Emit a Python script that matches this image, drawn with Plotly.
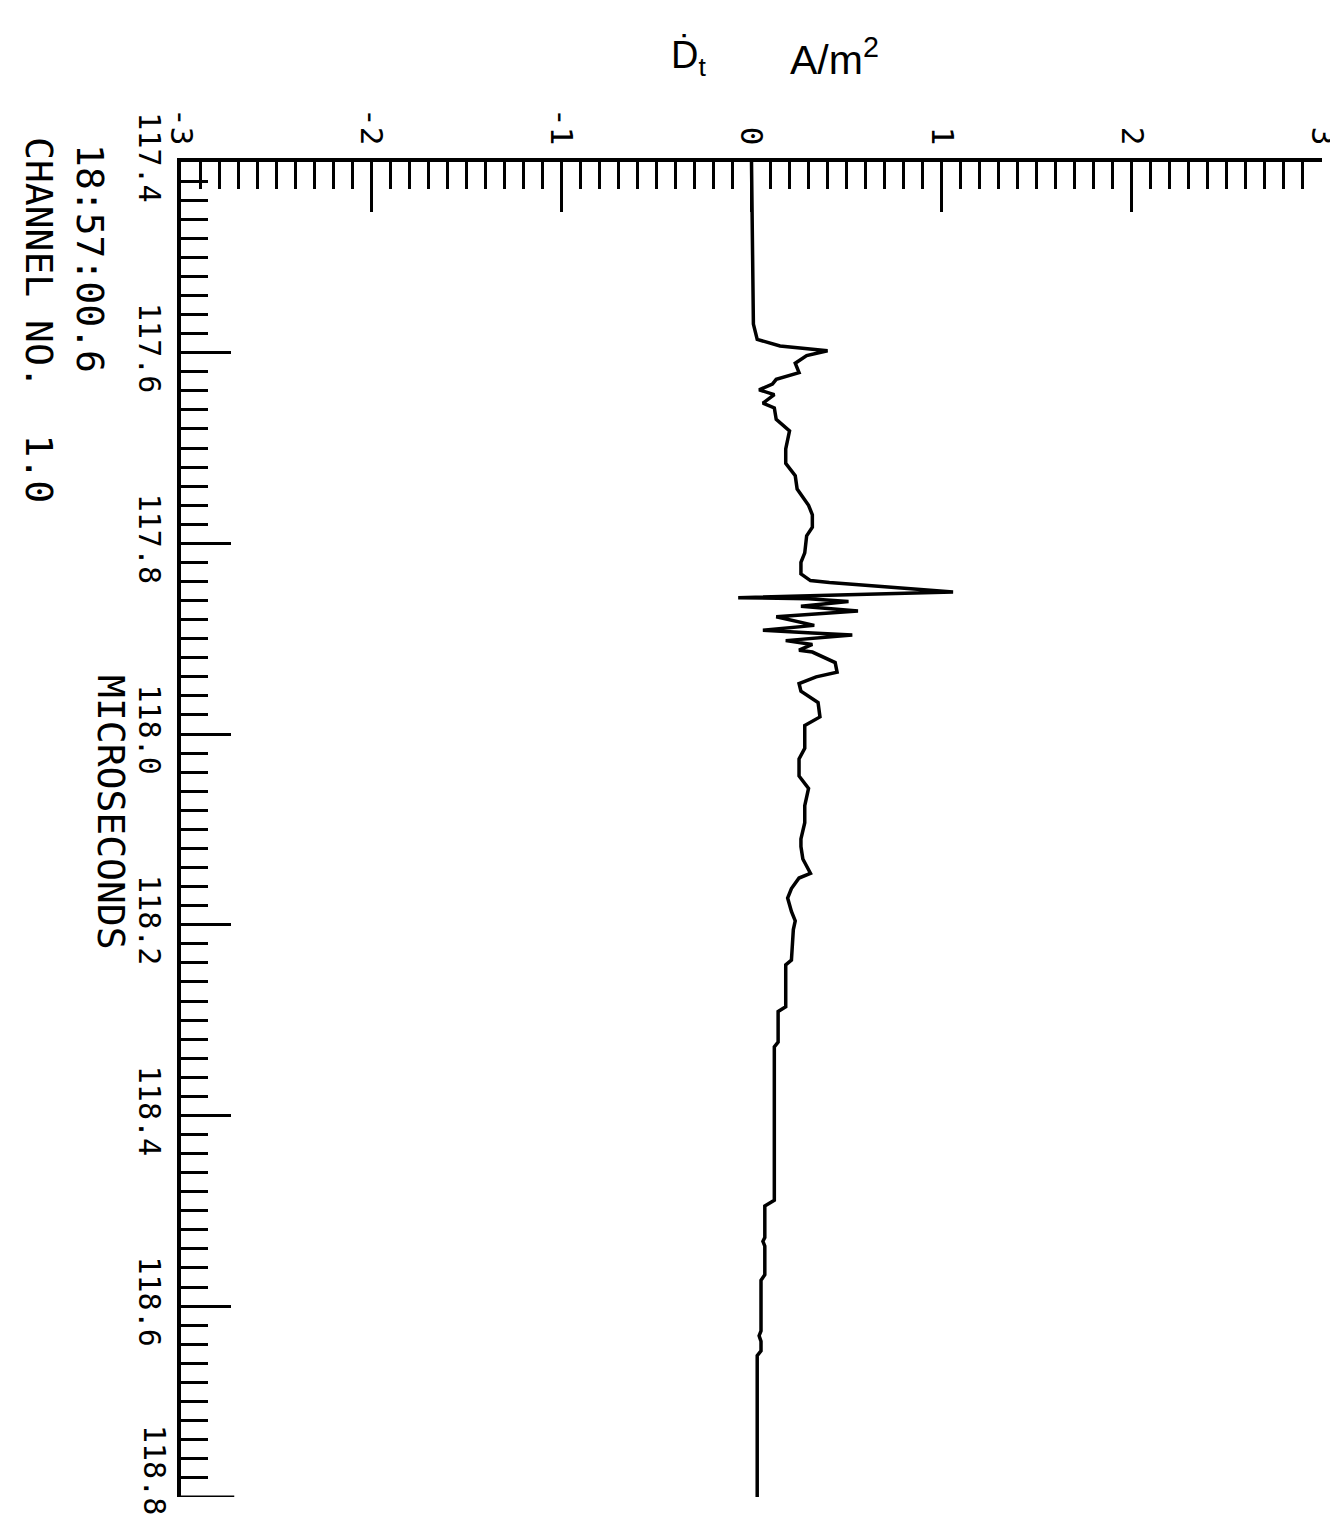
import plotly.graph_objects as go

# Time (microseconds) and displacement-current density D_t (A/m^2)
time_us = [117.400, 117.570, 117.586, 117.593, 117.598, 117.603, 117.611, 117.621,
           117.628, 117.633, 117.639, 117.644, 117.653, 117.658, 117.670, 117.682,
           117.701, 117.716, 117.729, 117.743, 117.760, 117.770, 117.783, 117.792,
           117.810, 117.820, 117.832, 117.839, 117.841, 117.845, 117.851, 117.857,
           117.858, 117.861, 117.866, 117.871, 117.877, 117.886, 117.891, 117.894,
           117.896, 117.902, 117.906, 117.912, 117.914, 117.925, 117.935, 117.940,
           117.947, 117.955, 117.967, 117.982, 117.991, 118.015, 118.026, 118.044,
           118.057, 118.075, 118.093, 118.110, 118.118, 118.131, 118.146, 118.151,
           118.162, 118.172, 118.186, 118.196, 118.205, 118.237, 118.242, 118.286,
           118.291, 118.323, 118.328, 118.460, 118.489, 118.495, 118.528, 118.532,
           118.537, 118.567, 118.573, 118.626, 118.631, 118.637, 118.647, 118.652,
           118.802]
d_t = [0.00, 0.01, 0.03, 0.15, 0.40, 0.29, 0.23, 0.25,
       0.13, 0.11, 0.04, 0.12, 0.06, 0.12, 0.13, 0.20,
       0.18, 0.18, 0.23, 0.24, 0.30, 0.32, 0.32, 0.29,
       0.28, 0.26, 0.26, 0.31, 0.41, 0.69, 1.06, -0.07,
       0.30, 0.51, 0.26, 0.56, 0.13, 0.33, 0.06, 0.32,
       0.53, 0.18, 0.32, 0.25, 0.32, 0.44, 0.45, 0.34,
       0.25, 0.26, 0.35, 0.36, 0.28, 0.28, 0.25, 0.25,
       0.30, 0.28, 0.28, 0.26, 0.26, 0.27, 0.31, 0.25,
       0.21, 0.19, 0.21, 0.23, 0.22, 0.21, 0.18, 0.18,
       0.14, 0.14, 0.12, 0.12, 0.12, 0.07, 0.07, 0.06,
       0.07, 0.07, 0.05, 0.05, 0.04, 0.05, 0.05, 0.03,
       0.03]

d_ticks = [-3, -2, -1, 0, 1, 2, 3]
d_ticktext = ["-3", "-2", "-1", "0", "1", "2", "3"]
t_ticks = [117.4, 117.6, 117.8, 118.0, 118.2, 118.4, 118.6, 118.8]
t_ticktext = ["117.4", "117.6", "117.8", "118.0", "118.2", "118.4", "118.6", "118.8"]

W, H = 1338, 1516
L, R, T, B = 173, 24, 154, 27
pw, ph = W - L - R, H - T - B

def px(x):
    return (x - L) / pw

def py(y):
    return (H - B - y) / ph

mono = "DejaVu Sans Mono"

fig = go.Figure()
fig.add_trace(go.Scatter(x=d_t, y=time_us, mode="lines",
                         line=dict(color="black", width=3.5), showlegend=False,
                         hoverinfo="skip", cliponaxis=False))

def ann(text, x, y, size, family, angle=0):
    return dict(text=text, x=px(x), y=py(y), xref="paper", yref="paper",
                xanchor="center", yanchor="middle", textangle=angle,
                showarrow=False, font=dict(family=family, size=size, color="black"))

fig.update_layout(
    width=W, height=H,
    margin=dict(l=L, r=R, t=T, b=B, pad=0),
    paper_bgcolor="white", plot_bgcolor="white",
    xaxis=dict(range=[-3, 3], side="top", showgrid=False, zeroline=False,
               showline=True, linecolor="black", linewidth=3.5,
               tickmode="array", tickvals=d_ticks, ticktext=d_ticktext,
               ticks="inside", ticklen=50, tickwidth=2.8, tickcolor="black",
               tickangle=90, ticklabelstandoff=2,
               tickfont=dict(family=mono, size=31, color="black"),
               minor=dict(tickmode="linear", tick0=-3, dtick=0.1, ticks="inside",
                          ticklen=27, tickwidth=2.8, tickcolor="black", showgrid=False),
               automargin=False, fixedrange=True),
    yaxis=dict(range=[118.8002, 117.4], showgrid=False, zeroline=False,
               showline=True, linecolor="black", linewidth=3.5,
               tickmode="array", tickvals=t_ticks[:-1], ticktext=t_ticktext[:-1],
               ticks="inside", ticklen=50, tickwidth=2.8, tickcolor="black",
               tickangle=90, ticklabelstandoff=2,
               tickfont=dict(family=mono, size=30, color="black"),
               minor=dict(tickmode="linear", tick0=117.4, dtick=0.02, ticks="inside",
                          ticklen=27, tickwidth=2.8, tickcolor="black", showgrid=False),
               automargin=False, fixedrange=True),
    annotations=[
        ann("Ḋ<sub>t</sub>", 680, 50, 38, "Liberation Sans"),
        ann("A/m<sup>2</sup>", 826, 49, 41, "Liberation Sans"),
        ann("18:57:00.6", 82, 250, 38, mono, 90),
        ann("CHANNEL NO.\u00a0 1.0", 31, 312, 38, mono, 90),
        ann("MICROSECONDS", 103, 804, 38, mono, 90),
        # last time tick label (drawn as annotation so it stays on the page)
        ann(t_ticktext[-1], 147, 1462, 30, mono, 90),
    ],
    shapes=[dict(type="line", xref="x", yref="y", x0=-3, x1=-3 + 0.28,
                 y0=t_ticks[-1], y1=t_ticks[-1], line=dict(color="black", width=2.8))],
)

fig.write_html("out.html")
